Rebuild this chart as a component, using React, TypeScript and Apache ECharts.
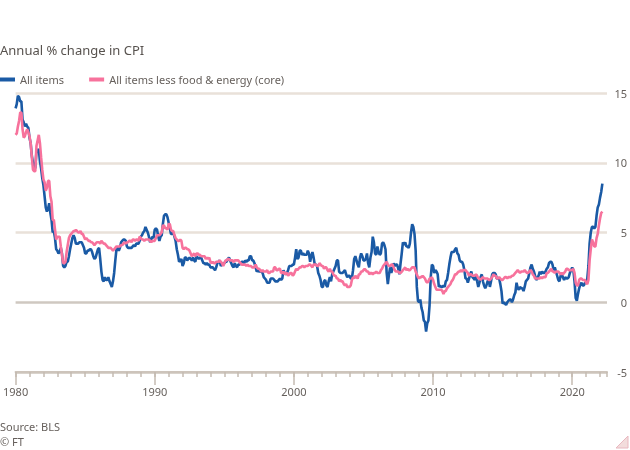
import React, { useEffect, useRef } from "react";
import * as echarts from "echarts";

const START_YEAR = 1980;
const X_MIN = 1980;
const X_MAX = 2022.5;

const yTicks = [-5, 0, 5, 10, 15];

// All items CPI, annual % change, monthly
const allItems1980s = [
  13.9, 14.2, 14.8, 14.7, 14.4, 14.4, 13.1, 12.9, 12.6, 12.8, 12.6, 12.5,
  11.8, 11.4, 10.5, 10.0, 9.8, 9.6, 10.8, 10.8, 11.0, 10.1, 9.6, 8.9,
  8.4, 7.6, 6.8, 6.5, 6.7, 7.1, 6.4, 5.9, 5.0, 5.1, 4.6, 3.8,
  3.7, 3.5, 3.6, 3.9, 3.5, 2.6, 2.5, 2.6, 2.9, 2.9, 3.3, 3.8,
  4.2, 4.6, 4.8, 4.6, 4.2, 4.2, 4.2, 4.3, 4.3, 4.3, 4.1, 3.9,
  3.5, 3.5, 3.7, 3.7, 3.8, 3.8, 3.6, 3.3, 3.1, 3.2, 3.5, 3.8,
  3.9, 3.1, 2.2, 1.6, 1.5, 1.8, 1.6, 1.6, 1.8, 1.5, 1.3, 1.1,
  1.5, 2.1, 3.0, 3.8, 3.9, 3.7, 3.9, 4.3, 4.4, 4.5, 4.5, 4.4,
  4.0, 3.9, 3.9, 3.9, 3.9, 4.0, 4.1, 4.0, 4.2, 4.2, 4.2, 4.4,
  4.7, 4.8, 5.0, 5.1, 5.4, 5.2, 5.0, 4.7, 4.3, 4.5, 4.7, 4.6,
];
const allItems1990s = [
  5.2, 5.3, 5.2, 4.7, 4.4, 4.7, 4.8, 5.6, 6.2, 6.3, 6.3, 6.1,
  5.7, 5.3, 4.9, 4.9, 5.0, 4.7, 4.4, 3.8, 3.4, 2.9, 3.0, 3.1,
  2.6, 2.8, 3.2, 3.2, 3.0, 3.1, 3.2, 3.1, 3.0, 3.2, 3.0, 2.9,
  3.3, 3.2, 3.1, 3.2, 3.2, 3.0, 2.8, 2.8, 2.7, 2.8, 2.7, 2.7,
  2.5, 2.5, 2.5, 2.4, 2.3, 2.5, 2.8, 2.9, 3.0, 2.6, 2.7, 2.7,
  2.8, 2.9, 2.9, 3.1, 3.2, 3.0, 2.8, 2.6, 2.5, 2.8, 2.6, 2.5,
  2.7, 2.7, 2.8, 2.9, 2.9, 2.8, 3.0, 2.9, 3.0, 3.0, 3.3, 3.3,
  3.0, 3.0, 2.8, 2.5, 2.2, 2.3, 2.2, 2.2, 2.2, 2.1, 1.8, 1.7,
  1.6, 1.4, 1.4, 1.4, 1.7, 1.7, 1.7, 1.6, 1.5, 1.5, 1.5, 1.6,
  1.7, 1.6, 1.7, 2.3, 2.1, 2.0, 2.1, 2.3, 2.6, 2.6, 2.6, 2.7,
];
const allItems2000s = [
  2.7, 3.2, 3.8, 3.1, 3.2, 3.7, 3.7, 3.4, 3.5, 3.4, 3.4, 3.4,
  3.7, 3.5, 2.9, 3.3, 3.6, 3.2, 2.7, 2.7, 2.6, 2.1, 1.9, 1.6,
  1.1, 1.1, 1.5, 1.6, 1.2, 1.1, 1.5, 1.8, 1.5, 2.0, 2.2, 2.4,
  2.6, 3.0, 3.0, 2.2, 2.1, 2.1, 2.1, 2.2, 2.3, 2.0, 1.8, 1.9,
  1.9, 1.7, 1.7, 2.3, 3.1, 3.3, 3.0, 2.7, 2.5, 3.2, 3.5, 3.3,
  3.0, 3.0, 3.1, 3.5, 2.8, 2.5, 3.2, 3.6, 4.7, 4.3, 3.5, 3.4,
  4.0, 3.6, 3.4, 3.5, 4.2, 4.3, 4.1, 3.8, 2.1, 1.3, 2.0, 2.5,
  2.1, 2.4, 2.8, 2.6, 2.7, 2.7, 2.4, 2.0, 2.8, 3.5, 4.3, 4.1,
  4.3, 4.0, 4.0, 3.9, 4.2, 5.0, 5.6, 5.4, 4.9, 3.7, 1.1, 0.1,
  0.0, 0.2, -0.4, -0.7, -1.3, -1.4, -2.1, -1.5, -1.3, -0.2, 1.8, 2.7,
];
const allItems2010s = [
  2.6, 2.1, 2.3, 2.2, 2.0, 1.1, 1.2, 1.1, 1.1, 1.2, 1.1, 1.5,
  1.6, 2.1, 2.7, 3.2, 3.6, 3.6, 3.6, 3.8, 3.9, 3.5, 3.4, 3.0,
  2.9, 2.9, 2.7, 2.3, 1.7, 1.7, 1.4, 1.7, 2.0, 2.2, 1.8, 1.7,
  1.6, 2.0, 1.5, 1.1, 1.4, 1.8, 2.0, 1.5, 1.2, 1.0, 1.2, 1.5,
  1.6, 1.1, 1.5, 2.0, 2.1, 2.1, 2.0, 1.7, 1.7, 1.7, 1.3, 0.8,
  -0.1, 0.0, -0.1, -0.2, 0.0, 0.1, 0.2, 0.2, 0.0, 0.2, 0.5, 0.7,
  1.4, 1.0, 0.9, 1.1, 1.0, 1.0, 0.8, 1.1, 1.5, 1.6, 1.7, 2.1,
  2.5, 2.7, 2.4, 2.2, 1.9, 1.6, 1.7, 1.9, 2.2, 2.0, 2.2, 2.1,
  2.1, 2.2, 2.4, 2.5, 2.8, 2.9, 2.9, 2.7, 2.3, 2.5, 2.2, 1.9,
  1.6, 1.5, 1.9, 2.0, 1.8, 1.6, 1.8, 1.7, 1.7, 1.8, 2.1, 2.3,
];
const allItems2020s = [
  2.5, 2.3, 1.5, 0.3, 0.1, 0.6, 1.0, 1.3, 1.4, 1.2, 1.2, 1.4,
  1.4, 1.7, 2.6, 4.2, 5.0, 5.4, 5.4, 5.3, 5.4, 6.2, 6.8, 7.0,
  7.5, 7.9, 8.5,
];

// All items less food & energy (core), annual % change, monthly
const core1980s = [
  12.0, 12.1, 12.6, 13.0, 13.6, 13.6, 12.4, 11.8, 11.9, 12.2, 12.4, 12.2,
  11.9, 11.4, 10.4, 9.5, 9.4, 9.4, 11.2, 11.6, 12.0, 11.4, 10.4, 9.5,
  8.8, 8.6, 8.0, 8.2, 8.7, 8.7, 7.6, 7.2, 5.9, 5.9, 5.2, 4.5,
  4.7, 4.7, 4.7, 4.0, 3.4, 2.8, 2.8, 2.9, 3.6, 4.1, 4.6, 4.8,
  4.9, 5.0, 5.1, 5.1, 5.2, 5.1, 5.0, 5.0, 5.1, 4.9, 4.9, 4.7,
  4.5, 4.6, 4.5, 4.4, 4.4, 4.3, 4.3, 4.2, 4.1, 4.2, 4.3, 4.3,
  4.3, 4.2, 4.4, 4.3, 4.2, 4.2, 4.1, 4.0, 3.9, 3.9, 3.9, 3.8,
  3.7, 3.8, 3.9, 4.0, 4.0, 4.0, 4.0, 4.1, 4.1, 4.2, 4.3, 4.2,
  4.3, 4.3, 4.4, 4.4, 4.3, 4.5, 4.5, 4.4, 4.5, 4.5, 4.4, 4.7,
  4.6, 4.5, 4.5, 4.4, 4.5, 4.5, 4.5, 4.5, 4.4, 4.3, 4.4, 4.4,
];
const core1990s = [
  4.4, 4.6, 4.8, 4.8, 4.8, 4.9, 5.0, 5.5, 5.5, 5.3, 5.3, 5.2,
  5.6, 5.6, 5.2, 5.1, 5.1, 4.8, 4.6, 4.5, 4.4, 4.4, 4.5, 4.4,
  3.9, 3.8, 3.9, 3.9, 3.8, 3.8, 3.7, 3.5, 3.3, 3.4, 3.5, 3.3,
  3.5, 3.5, 3.4, 3.4, 3.3, 3.3, 3.3, 3.3, 3.1, 3.2, 3.1, 3.2,
  2.9, 2.8, 2.9, 2.8, 2.8, 2.9, 2.9, 2.9, 3.0, 2.9, 2.8, 2.6,
  2.8, 3.0, 3.0, 3.1, 3.1, 3.0, 3.0, 3.0, 2.9, 3.0, 3.0, 3.0,
  3.0, 2.9, 2.8, 2.7, 2.7, 2.7, 2.7, 2.6, 2.7, 2.6, 2.6, 2.6,
  2.5, 2.5, 2.5, 2.7, 2.5, 2.4, 2.4, 2.3, 2.2, 2.3, 2.2, 2.2,
  2.2, 2.3, 2.1, 2.1, 2.2, 2.2, 2.2, 2.5, 2.5, 2.3, 2.3, 2.4,
  2.4, 2.1, 2.1, 2.2, 2.0, 2.1, 2.1, 1.9, 2.0, 2.1, 2.1, 1.9,
];
const core2000s = [
  2.0, 2.2, 2.4, 2.3, 2.4, 2.5, 2.5, 2.6, 2.6, 2.5, 2.6, 2.6,
  2.6, 2.7, 2.7, 2.6, 2.5, 2.7, 2.7, 2.7, 2.6, 2.6, 2.8, 2.7,
  2.6, 2.6, 2.4, 2.5, 2.5, 2.3, 2.2, 2.4, 2.2, 2.2, 2.0, 1.9,
  1.9, 1.7, 1.7, 1.5, 1.6, 1.5, 1.5, 1.3, 1.2, 1.3, 1.1, 1.1,
  1.1, 1.2, 1.6, 1.8, 1.7, 1.9, 1.8, 1.7, 2.0, 2.0, 2.2, 2.2,
  2.3, 2.4, 2.3, 2.2, 2.2, 2.0, 2.1, 2.1, 2.0, 2.1, 2.1, 2.2,
  2.1, 2.1, 2.1, 2.3, 2.4, 2.6, 2.7, 2.8, 2.9, 2.7, 2.6, 2.6,
  2.7, 2.7, 2.5, 2.3, 2.2, 2.2, 2.2, 2.1, 2.1, 2.2, 2.3, 2.4,
  2.5, 2.3, 2.4, 2.3, 2.3, 2.4, 2.5, 2.5, 2.5, 2.2, 2.0, 1.8,
  1.7, 1.8, 1.8, 1.9, 1.8, 1.7, 1.5, 1.4, 1.5, 1.7, 1.7, 1.8,
];
const core2010s = [
  1.6, 1.3, 1.1, 0.9, 0.9, 0.9, 0.9, 0.9, 0.8, 0.6, 0.8, 0.8,
  1.0, 1.1, 1.2, 1.3, 1.5, 1.6, 1.8, 2.0, 2.0, 2.1, 2.2, 2.2,
  2.3, 2.2, 2.3, 2.3, 2.3, 2.2, 2.1, 1.9, 2.0, 2.0, 1.9, 1.9,
  1.9, 2.0, 1.9, 1.7, 1.7, 1.6, 1.7, 1.8, 1.7, 1.7, 1.7, 1.7,
  1.6, 1.6, 1.7, 1.8, 2.0, 1.9, 1.9, 1.7, 1.7, 1.8, 1.7, 1.6,
  1.6, 1.7, 1.8, 1.8, 1.7, 1.8, 1.8, 1.8, 1.9, 1.9, 2.0, 2.1,
  2.2, 2.3, 2.2, 2.1, 2.2, 2.2, 2.2, 2.3, 2.2, 2.1, 2.1, 2.2,
  2.3, 2.2, 2.0, 1.9, 1.7, 1.7, 1.7, 1.7, 1.7, 1.8, 1.7, 1.8,
  1.8, 1.8, 2.1, 2.1, 2.2, 2.3, 2.4, 2.2, 2.2, 2.1, 2.2, 2.2,
  2.2, 2.1, 2.0, 2.1, 2.0, 2.1, 2.2, 2.4, 2.4, 2.3, 2.3, 2.3,
];
const core2020s = [
  2.3, 2.4, 2.1, 1.4, 1.2, 1.2, 1.6, 1.7, 1.7, 1.6, 1.6, 1.6,
  1.4, 1.3, 1.6, 3.0, 3.8, 4.5, 4.3, 4.0, 4.0, 4.6, 4.9, 5.5,
  6.0, 6.4, 6.5,
];

const allItems = [
  ...allItems1980s,
  ...allItems1990s,
  ...allItems2000s,
  ...allItems2010s,
  ...allItems2020s,
];
const core = [...core1980s, ...core1990s, ...core2000s, ...core2010s, ...core2020s];

const toPoints = (vals: number[]) =>
  vals.map((v, i) => [START_YEAR + i / 12, v]);

const BLUE = "#1a5aa5";
const PINK = "#f7729c";
const TEXT = "#66605c";
const FONT = "'Noto Sans', 'DejaVu Sans', sans-serif";

export default function App() {
  const ref = useRef<HTMLDivElement>(null);

  useEffect(() => {
    if (!ref.current) return;
    const chart = echarts.init(ref.current, undefined, { renderer: "svg" });
    chart.setOption({
      animation: false,
      textStyle: { fontFamily: FONT },
      title: {
        text: "Annual % change in CPI",
        left: 0,
        top: 43,
        padding: 0,
        textStyle: { fontSize: 13, fontWeight: "normal", color: "#57524e", fontFamily: FONT },
      },
      legend: {
        left: 0,
        top: 74,
        padding: 0,
        icon: "rect",
        itemWidth: 15,
        itemHeight: 4,
        itemGap: 25,
        textStyle: { fontSize: 11, color: TEXT, fontFamily: FONT },
        data: ["All items", "All items less food & energy (core)"],
      },
      grid: { left: 14, right: 23, top: 93, bottom: 78, containLabel: false },
      xAxis: [
        {
          type: "value",
          min: X_MIN,
          max: X_MAX,
          interval: 10,
          axisLine: { show: true, onZero: false, lineStyle: { color: "#cdc4bb", width: 2 } },
          axisTick: { show: true, length: 13, lineStyle: { color: "#c4bbb2", width: 1.5 } },
          axisLabel: {
            show: true,
            margin: 14,
            fontSize: 11,
            color: TEXT,
            fontFamily: FONT,
            showMaxLabel: false,
            formatter: (v: number) => String(v),
          },
          splitLine: { show: false },
        },
        {
          type: "value",
          position: "bottom",
          min: X_MIN,
          max: X_MAX,
          interval: 1,
          axisLine: { show: false, onZero: false },
          axisTick: { show: true, length: 5, lineStyle: { color: "#c4bbb2", width: 1.5 } },
          axisLabel: { show: false },
          splitLine: { show: false },
        },
      ],
      yAxis: {
        type: "value",
        position: "right",
        min: yTicks[0],
        max: yTicks[yTicks.length - 1],
        interval: 5,
        axisLine: { show: false },
        axisTick: { show: false },
        axisLabel: {
          margin: 20,
          align: "right",
          fontSize: 11,
          color: TEXT,
          fontFamily: FONT,
        },
        splitLine: {
          show: true,
          lineStyle: {
            color: ["#cdc4bb", "#cfc8c1", "#e9e1d9", "#e9e1d9", "#e9e1d9"],
            width: 2.5,
          },
        },
      },
      series: [
        {
          name: "All items",
          type: "line",
          xAxisIndex: 0,
          data: toPoints(allItems),
          showSymbol: false,
          symbol: "none",
          lineStyle: { color: BLUE, width: 2.6 },
          itemStyle: { color: BLUE },
        },
        {
          name: "All items less food & energy (core)",
          type: "line",
          xAxisIndex: 0,
          data: toPoints(core),
          showSymbol: false,
          symbol: "none",
          lineStyle: { color: PINK, width: 2.6 },
          itemStyle: { color: PINK },
        },
      ],
      graphic: [
        {
          type: "text",
          left: 0,
          top: 421,
          style: { text: "Source: BLS", fontSize: 11, fill: TEXT, fontFamily: FONT },
        },
        {
          type: "text",
          left: 0,
          top: 436,
          style: { text: "© FT", fontSize: 11, fill: TEXT, fontFamily: FONT },
        },
        {
          type: "polygon",
          shape: { points: [[628, 436], [628, 448], [616, 448]] },
          style: { fill: "#f3dcdc", stroke: "#e8b8c0", lineWidth: 1 },
        },
      ],
    });
    return () => chart.dispose();
  }, []);

  return (
    <div
      ref={ref}
      style={{ position: "fixed", left: 0, top: 0, width: 630, height: 450 }}
    />
  );
}
